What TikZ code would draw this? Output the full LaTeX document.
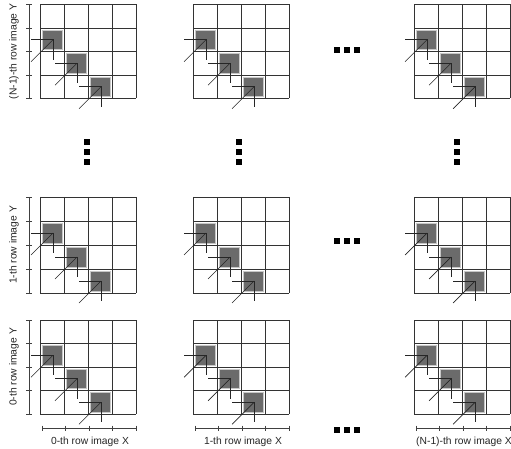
\documentclass[tikz,border=0pt]{standalone}
\usepackage{fontspec}
\setmainfont{Liberation Sans}
\begin{document}
\begin{tikzpicture}[x=1pt,y=-1pt,
  gridline/.style={draw=black!80,line width=0.8pt},
  cellfill/.style={fill=black!58,draw=black!22,line width=0.9pt},
  arrowline/.style={draw=black!85,line width=0.7pt},
  axisline/.style={draw=black!75,line width=0.6pt},
  dotbox/.style={fill=black,draw=none,minimum size=6pt,inner sep=0pt,rectangle},
  lbl/.style={font=\fontsize{10.3}{12}\selectfont,text=black!85,inner sep=0pt}]
\useasboundingbox (0,0) rectangle (511,449);
\def\cw{24}
\foreach \gx/\cwid in {40/24,193/24,414/24}{
  \foreach \gy/\ch in {4.5/23.5,197/24,320/23.5}{
    % gray cells
    \foreach \i in {0,1,2}{
      \pgfmathsetmacro{\cx}{\gx+\i*\cwid}
      \pgfmathsetmacro{\cy}{\gy+(\i+1)*\ch}
      \draw[cellfill] (\cx+2.5,\cy+2) rectangle (\cx+\cwid-1.5,\cy+\ch-2);
    }
    % grid
    \foreach \k in {0,...,4}{
      \draw[gridline] (\gx+\k*\cwid,\gy) -- (\gx+\k*\cwid,\gy+4*\ch);
      \draw[gridline] (\gx,\gy+\k*\ch) -- (\gx+4*\cwid,\gy+\k*\ch);
    }
    % arrows
    \foreach \i in {0,1,2}{
      \pgfmathsetmacro{\ax}{\gx+\i*\cwid+0.5*\cwid+1}
      \pgfmathsetmacro{\ay}{\gy+(\i+1)*\ch+0.5*\ch}
      \coordinate (c) at (\ax,\ay);
      \draw[arrowline] ([xshift=-22pt]c.center) -- (c) -- ([yshift=-20pt]c.center);
      \draw[arrowline] ([xshift=-22pt,yshift=-22pt]c.center) -- (c);
    }
  }
}
% Y axes and labels (left column)
\foreach \gy/\ch/\txt in {4.5/23.5/{(N-1)-th row image Y},197/24/{1-th row image Y},320/23.5/{0-th row image Y}}{
  \draw[axisline] (29,\gy) -- (29,\gy+4*\ch);
  \foreach \k in {0,...,4}{
    \draw[axisline] (26,\gy+\k*\ch) -- (32,\gy+\k*\ch);
  }
  \node[lbl,rotate=90] (yl) at (14,\gy+2*\ch) {\txt};
}
% X axes and labels (bottom row)
\foreach \gx/\txt in {40/{0-th row image X},193/{1-th row image X},414/{(N-1)-th row image X}}{
  \draw[axisline] (\gx+2,428) -- (\gx+96,428);
  \foreach \k in {0,...,4}{
    \draw[axisline] (\gx+2+\k*23.5,425.5) -- (\gx+2+\k*23.5,430.5);
  }
  \node[lbl,anchor=base] (xl) at (\gx+50,444) {\txt};
}
% horizontal ellipsis dots
\foreach \y in {50,241,430}{
  \foreach \x in {336.5,346.5,357}{
    \node[dotbox] at (\x,\y) {};
  }
}
% vertical ellipsis dots
\foreach \x in {87,239,457}{
  \foreach \y in {142,152,162}{
    \node[dotbox] at (\x,\y) {};
  }
}
\end{tikzpicture}
\end{document}
